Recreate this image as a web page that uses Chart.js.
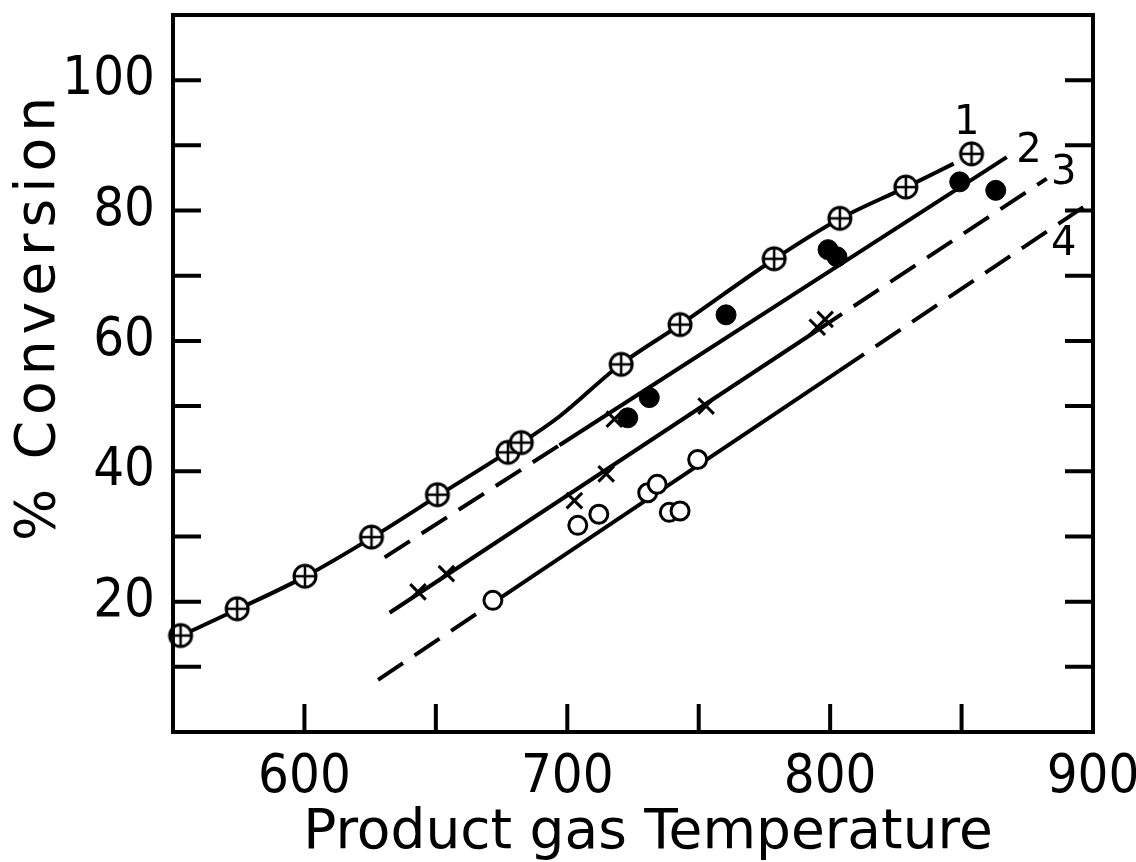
<!DOCTYPE html>
<html>
<head>
<meta charset="utf-8">
<title>% Conversion vs Product gas Temperature</title>
<script src="https://cdn.jsdelivr.net/npm/chart.js@4"></script>
<style>
  html, body { margin: 0; padding: 0; background: #fff; }
</style>
</head>
<body>
<canvas id="conv" width="1136" height="862"></canvas>
<script>
// curve 1 markers (circle with plus)
const crossTemp = [552.9, 574.4, 600.2, 625.5, 650.6, 677.4, 682.5, 720.5, 742.9, 778.7, 803.7, 828.8, 853.8];
const crossConv = [14.8, 18.9, 23.9, 29.9, 36.4, 42.9, 44.4, 56.4, 62.5, 72.6, 78.8, 83.6, 88.7];
// curve 2 markers (filled dots)
const dotTemp = [723.0, 731.2, 760.4, 799.2, 802.6, 849.3, 863.0];
const dotConv = [48.2, 51.3, 64.0, 74.0, 72.9, 84.4, 83.1];
// curve 3 markers (x)
const xTemp = [643.2, 654.0, 702.7, 714.8, 717.9, 752.8, 795.1, 798.1];
const xConv = [21.5, 24.3, 35.5, 39.6, 48.0, 50.0, 62.1, 63.3];
// curve 4 markers (open circles)
const ringTemp = [671.7, 704.0, 712.0, 730.6, 734.2, 738.8, 742.9, 749.6];
const ringConv = [20.2, 31.7, 33.4, 36.7, 38.0, 33.7, 33.9, 41.8];

// fitted curves
const curve1Temp = [550, 575, 600, 626, 651, 682, 697, 720, 743, 779, 804, 829, 847];
const curve1Conv = [14.2, 18.9, 23.8, 29.9, 36.3, 44.2, 48.4, 56.3, 62.5, 72.6, 78.8, 83.6, 87.2];
const curve2Temp = [630.5, 697, 867.2];
const curve2Conv = [26.8, 44.0, 88.2];
const curve3Temp = [632.4, 795, 882.4];
const curve3Conv = [18.3, 61.6, 84.9];
const curve4Temp = [628, 672, 803.4, 899.2];
const curve4Conv = [8.0, 19.9, 55.4, 81.3];

// curve numbers
const curveNames = ['1', '2', '3', '4'];
const nameTemp = [852.0, 875.6, 888.9, 888.9];
const nameConv = [93.3, 89.0, 85.6, 74.8];

const xTicks = [600, 700, 800, 900];
const yTicks = [20, 40, 60, 80, 100];

const tickFont = '"Liberation Sans Narrow", "DejaVu Sans Condensed", "DejaVu Sans", sans-serif';
const titleFont = '"DejaVu Sans", sans-serif';

function pts(xs, ys) {
    return xs.map((v, i) => ({ x: v, y: ys[i] }));
}

// circle with a plus inside
function plusCircle(r) {
    const c = document.createElement('canvas');
    const s = 2 * r + 6;
    c.width = c.height = s;
    const g = c.getContext('2d');
    const m = s / 2;
    g.lineWidth = 3;
    g.strokeStyle = '#000';
    g.fillStyle = '#fff';
    g.beginPath();
    g.arc(m, m, r, 0, Math.PI * 2);
    g.fill();
    g.stroke();
    g.lineWidth = 2.5;
    g.beginPath();
    g.moveTo(m - r, m); g.lineTo(m + r, m);
    g.moveTo(m, m - r); g.lineTo(m, m + r);
    g.stroke();
    return c;
}

const dashed = [30, 14];

// frame, inward ticks, curve numbers and axis titles
const decorations = {
    id: 'decorations',
    afterDatasetsDraw(chart) {
        const { ctx, chartArea: a, scales: { x, y } } = chart;
        ctx.save();
        ctx.strokeStyle = '#000';
        ctx.lineWidth = 4;
        ctx.strokeRect(a.left, a.top, a.right - a.left, a.bottom - a.top);
        ctx.beginPath();
        x.ticks.forEach(t => {
            if (t.value > x.min && t.value < x.max) {
                const px = x.getPixelForValue(t.value);
                ctx.moveTo(px, a.bottom);
                ctx.lineTo(px, a.bottom - 28);
            }
        });
        y.ticks.forEach(t => {
            if (t.value > 0 && t.value <= 100) {
                const py = y.getPixelForValue(t.value);
                ctx.moveTo(a.left, py);
                ctx.lineTo(a.left + 28, py);
                ctx.moveTo(a.right, py);
                ctx.lineTo(a.right - 28, py);
            }
        });
        ctx.stroke();

        ctx.fillStyle = '#000';
        ctx.font = '40px ' + titleFont;
        ctx.textAlign = 'center';
        ctx.textBaseline = 'middle';
        curveNames.forEach((n, i) => {
            ctx.fillText(n, x.getPixelForValue(nameTemp[i]), y.getPixelForValue(nameConv[i]));
        });

        ctx.font = '55px ' + titleFont;
        ctx.fillText('Product gas Temperature', 648, 834);

        ctx.translate(40, 316);
        ctx.rotate(-Math.PI / 2);
        ctx.letterSpacing = '6px';
        ctx.fillText('% Conversion', 0, 0);
        ctx.restore();
    }
};

new Chart(document.getElementById('conv'), {
    type: 'scatter',
    data: {
        datasets: [
            {
                data: pts(crossTemp, crossConv),
                pointStyle: plusCircle(11),
                order: 0,
                clip: false
            },
            {
                data: pts(dotTemp, dotConv),
                pointStyle: 'circle',
                pointRadius: 10,
                backgroundColor: '#000',
                borderColor: '#000',
                order: 0
            },
            {
                data: pts(xTemp, xConv),
                pointStyle: 'crossRot',
                pointRadius: 11,
                borderWidth: 3,
                borderColor: '#000',
                order: 0
            },
            {
                data: pts(ringTemp, ringConv),
                pointStyle: 'circle',
                pointRadius: 9,
                borderWidth: 3,
                backgroundColor: '#fff',
                borderColor: '#000',
                order: 0
            },
            {
                type: 'line',
                data: pts(curve1Temp, curve1Conv),
                borderColor: '#000',
                borderWidth: 4,
                pointRadius: 0,
                cubicInterpolationMode: 'monotone',
                order: 1
            },
            {
                type: 'line',
                data: pts(curve2Temp, curve2Conv),
                borderColor: '#000',
                borderWidth: 4,
                pointRadius: 0,
                segment: { borderDash: c => c.p0DataIndex === 0 ? dashed : undefined },
                order: 1
            },
            {
                type: 'line',
                data: pts(curve3Temp, curve3Conv),
                borderColor: '#000',
                borderWidth: 4,
                pointRadius: 0,
                segment: { borderDash: c => c.p0DataIndex === 1 ? dashed : undefined },
                order: 1
            },
            {
                type: 'line',
                data: pts(curve4Temp, curve4Conv),
                borderColor: '#000',
                borderWidth: 4,
                pointRadius: 0,
                segment: { borderDash: c => c.p0DataIndex !== 1 ? dashed : undefined },
                order: 1
            }
        ]
    },
    options: {
        responsive: false,
        animation: false,
        layout: { padding: { top: 15, right: 43, left: 0, bottom: 0 } },
        scales: {
            x: {
                type: 'linear',
                min: 550,
                max: 900,
                grid: { display: false },
                border: { display: false },
                ticks: {
                    stepSize: 50,
                    autoSkip: false,
                    maxRotation: 0,
                    padding: 6,
                    color: '#000',
                    font: { family: tickFont, size: 54 },
                    callback: v => xTicks.includes(v) ? v : ''
                },
                afterFit: s => { s.height = 130; s.paddingLeft = 0; s.paddingRight = 0; }
            },
            y: {
                min: 0,
                max: 110,
                grid: { display: false },
                border: { display: false },
                ticks: {
                    stepSize: 10,
                    autoSkip: false,
                    padding: 10,
                    color: '#000',
                    font: { family: tickFont, size: 54 },
                    callback: v => yTicks.includes(v) ? v : ''
                },
                afterFit: s => { s.width = 173; s.paddingTop = 0; s.paddingBottom = 0; }
            }
        },
        plugins: {
            legend: { display: false },
            tooltip: { enabled: false }
        }
    },
    plugins: [decorations]
});
</script>
</body>
</html>
